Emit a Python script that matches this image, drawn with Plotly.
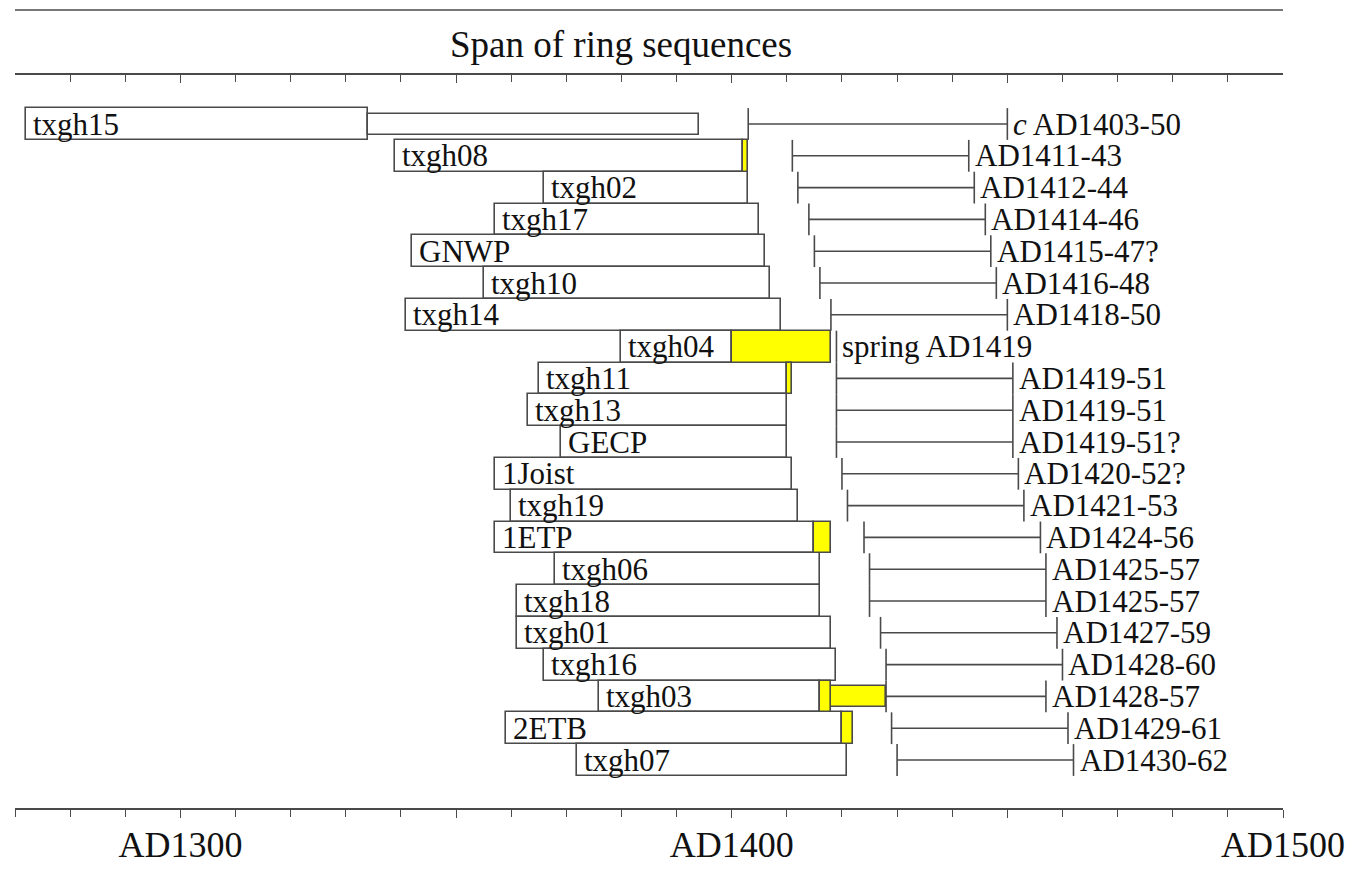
import plotly.graph_objects as go

# ---------------- data ----------------
samples = ["txgh15", "txgh08", "txgh02", "txgh17", "GNWP", "txgh10", "txgh14",
           "txgh04", "txgh11", "txgh13", "GECP", "1Joist", "txgh19", "1ETP",
           "txgh06", "txgh18", "txgh01", "txgh16", "txgh03", "2ETB", "txgh07"]
seq_start = [1272, 1339, 1366, 1357, 1342, 1355, 1341, 1380, 1365, 1363, 1369,
             1357, 1360, 1357, 1368, 1361, 1361, 1366, 1376, 1359, 1372]
heart_end = [1334, 1402, 1403, 1405, 1406, 1407, 1409, 1400, 1410, 1410, 1410,
             1411, 1412, 1415, 1416, 1416, 1418, 1419, 1416, 1420, 1421]
sap_end = [None, 1403, None, None, None, None, None, 1418, 1411, None, None,
           None, None, 1418, None, None, None, None, 1418, 1422, None]
# unmeasured / extended parts (thin boxes)
ext_samples = ["txgh15", "txgh03"]
ext_start = [1334, 1418]
ext_end = [1394, 1428]
ext_is_sap = [False, True]
# felling date ranges
fell_start = [1403, 1411, 1412, 1414, 1415, 1416, 1418, 1419, 1419, 1419, 1419,
              1420, 1421, 1424, 1425, 1425, 1427, 1428, 1428, 1429, 1430]
fell_end = [1450, 1443, 1444, 1446, 1447, 1448, 1450, None, 1451, 1451, 1451,
            1452, 1453, 1456, 1457, 1457, 1459, 1460, 1457, 1461, 1462]
fell_labels = ["<i>c</i> AD1403-50", "AD1411-43", "AD1412-44", "AD1414-46",
               "AD1415-47?", "AD1416-48", "AD1418-50", "spring AD1419",
               "AD1419-51", "AD1419-51", "AD1419-51?", "AD1420-52?", "AD1421-53",
               "AD1424-56", "AD1425-57", "AD1425-57", "AD1427-59", "AD1428-60",
               "AD1428-57", "AD1429-61", "AD1430-62"]
axis_range = [1270, 1500]
major_ticks = [1300, 1350, 1400, 1450, 1500]
label_ticks = [1300, 1400, 1500]
label_text = ["AD1300", "AD1400", "AD1500"]
title_text = "Span of ring sequences"

# ---------------- styling ----------------
FONT = "Liberation Serif"
INK = "#111111"
LINE = "#4a4a4a"
YELLOW = "#ffff00"

rows = list(range(len(samples)))
fig = go.Figure()

# heartwood boxes
fig.add_trace(go.Bar(
    orientation="h", y=rows, base=seq_start,
    x=[e - s for s, e in zip(seq_start, heart_end)],
    width=1.0, marker=dict(color="white", line=dict(color=LINE, width=1.6)),
    hoverinfo="skip", showlegend=False))

# thin extension boxes
ext_rows = [samples.index(n) for n in ext_samples]
fig.add_trace(go.Bar(
    orientation="h", y=ext_rows, base=ext_start,
    x=[e - s for s, e in zip(ext_start, ext_end)],
    width=0.66,
    marker=dict(color=[YELLOW if s else "white" for s in ext_is_sap],
                line=dict(color=LINE, width=1.6)),
    hoverinfo="skip", showlegend=False))

# sapwood boxes
sap_rows = [i for i in rows if sap_end[i] is not None]
fig.add_trace(go.Bar(
    orientation="h", y=sap_rows, base=[heart_end[i] for i in sap_rows],
    x=[sap_end[i] - heart_end[i] for i in sap_rows],
    width=1.0, marker=dict(color=YELLOW, line=dict(color=LINE, width=1.6)),
    hoverinfo="skip", showlegend=False))

# felling ranges
lx, ly = [], []
for i in rows:
    s, e = fell_start[i], fell_end[i]
    lx += [s, s, None]
    ly += [i - 0.5, i + 0.5, None]
    if e is not None:
        lx += [s, e, None, e, e, None]
        ly += [i, i, None, i - 0.5, i + 0.5, None]
fig.add_trace(go.Scatter(x=lx, y=ly, mode="lines",
                         line=dict(color=LINE, width=1.6),
                         hoverinfo="skip", showlegend=False))

# dummy traces for the extra axes
for ax in ("x2", "x3"):
    fig.add_trace(go.Scatter(x=axis_range, y=[0, 0], xaxis=ax, mode="lines",
                             line=dict(width=0), hoverinfo="skip",
                             showlegend=False))

ann = []
for i in rows:
    ann.append(dict(x=seq_start[i], y=i, xref="x", yref="y", text=samples[i],
                    xanchor="left", yanchor="middle", xshift=5, showarrow=False,
                    font=dict(family=FONT, size=31, color=INK)))
    ex = fell_end[i] if fell_end[i] is not None else fell_start[i]
    ann.append(dict(x=ex, y=i, xref="x", yref="y", text=fell_labels[i],
                    xanchor="left", yanchor="middle", xshift=4, showarrow=False,
                    font=dict(family=FONT, size=31, color=INK)))
ann.append(dict(x=1380, y=1.042, xref="x", yref="paper", text=title_text,
                xanchor="center", yanchor="middle", showarrow=False,
                font=dict(family=FONT, size=37, color=INK)))

fig.update_layout(
    width=1348, height=872,
    margin=dict(l=15, r=65, t=75, b=64),
    paper_bgcolor="white", plot_bgcolor="white",
    barmode="overlay", bargap=0,
    annotations=ann,
    shapes=[dict(type="line", xref="x", yref="paper", x0=axis_range[0],
                 x1=axis_range[1], y0=1.0887, y1=1.0887,
                 line=dict(color=LINE, width=1.6))],
    xaxis=dict(range=axis_range, tickmode="array", tickvals=major_ticks,
               showticklabels=False, ticks="outside", ticklen=8, tickwidth=1.4,
               tickcolor=LINE, showline=True, linecolor=LINE, linewidth=1.6,
               showgrid=False, zeroline=False, automargin=False,
               minor=dict(tickmode="linear", tick0=1270, dtick=10, ticks="outside",
                          ticklen=7, tickwidth=1.4, tickcolor=LINE, showgrid=False)),
    xaxis2=dict(range=axis_range, overlaying="x", side="top", anchor="y",
                tickmode="array", tickvals=major_ticks, showticklabels=False,
                ticks="inside", ticklen=8, tickwidth=1.4, tickcolor=LINE,
                showline=True, linecolor=LINE, linewidth=1.6, showgrid=False,
                zeroline=False, automargin=False,
                minor=dict(tickmode="linear", tick0=1270, dtick=10, ticks="inside",
                           ticklen=7, tickwidth=1.4, tickcolor=LINE, showgrid=False)),
    xaxis3=dict(range=axis_range, overlaying="x", side="bottom", anchor="y",
                tickmode="array", tickvals=label_ticks, ticktext=label_text,
                ticks="outside", ticklen=5, tickcolor="rgba(0,0,0,0)",
                showline=False, showgrid=False, zeroline=False,
                automargin=False,
                tickfont=dict(family=FONT, size=36, color=INK)),
    yaxis=dict(range=[21.509, -1.541], visible=False, showgrid=False,
               zeroline=False, fixedrange=True, automargin=False),
)

fig.write_html("out.html", config={"displayModeBar": False},
               post_script="document.body.style.margin='0';")
